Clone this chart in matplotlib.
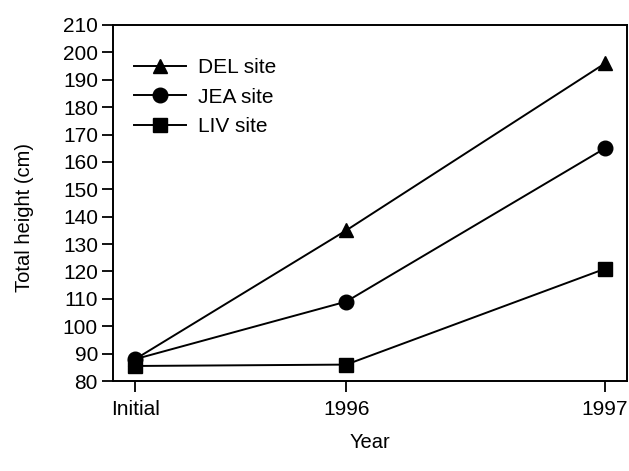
import matplotlib
matplotlib.use('Agg')
import matplotlib.pyplot as plt

plt.rcParams['font.family'] = ['Liberation Sans', 'DejaVu Sans']

# время измерений (годы от замера 1996), подписи по оси X
years = [-0.815, 0.0, 1.0]
year_labels = ['Initial', '1996', '1997']

del_site = [88, 135, 196]
jea_site = [88, 109, 165]
liv_site = [85.5, 86, 121]

fig = plt.figure(figsize=(6.29, 4.71), dpi=100)
ax = fig.add_axes([0.18, 0.191, 0.817, 0.756])

ax.plot(years, del_site, color='black', marker='^', markersize=10.5, lw=1.4, label='DEL site')
ax.plot(years, jea_site, color='black', marker='o', markersize=10.5, lw=1.4, label='JEA site')
ax.plot(years, liv_site, color='black', marker='s', markersize=9.5, lw=1.4, label='LIV site')

ax.set_xlim(-0.9, 1.085)
ax.set_ylim(80, 210)
ax.set_yticks(range(80, 211, 10))
ax.set_xticks(years)
ax.set_xticklabels(year_labels)
ax.tick_params(axis='both', direction='out', length=8, width=1.3, labelsize=15)
ax.tick_params(axis='x', pad=6)
ax.tick_params(axis='y', pad=3)
for s in ax.spines.values():
    s.set_linewidth(1.4)

ax.set_xlabel('Year', fontsize=14.5, labelpad=10)
ax.set_ylabel('Total height (cm)', fontsize=14.5)
ax.yaxis.set_label_coords(-0.155, 0.46)

ax.legend(loc='upper left', frameon=False, fontsize=15, handlelength=2.5,
          handletextpad=0.55, borderaxespad=0.0, labelspacing=0.5,
          bbox_to_anchor=(0.025, 0.93))

fig.savefig('out.png', dpi=100)
